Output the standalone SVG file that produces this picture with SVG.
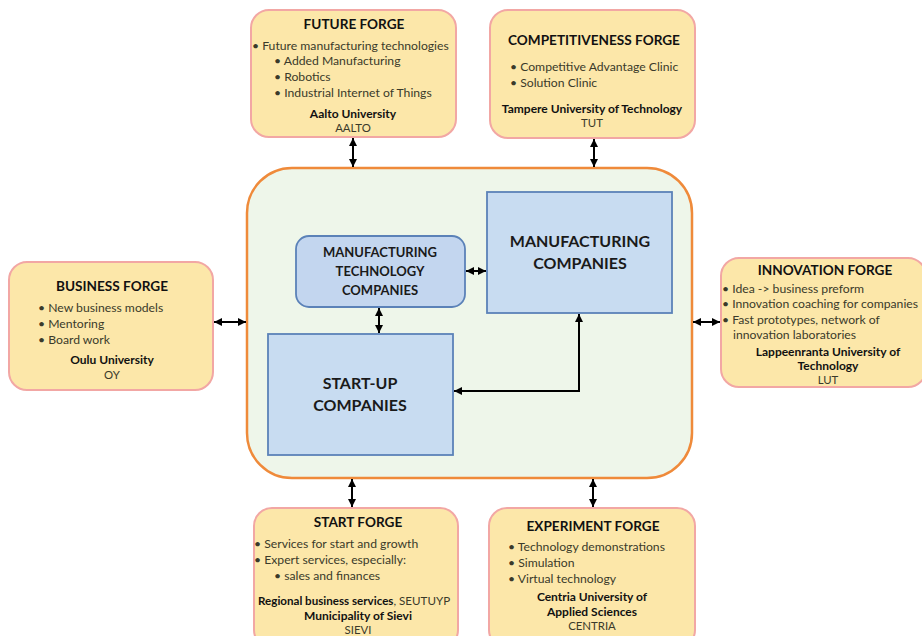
<svg xmlns="http://www.w3.org/2000/svg" width="922" height="636" viewBox="0 0 922 636">
  <defs>
    <marker id="arr" viewBox="0 0 10 10" refX="10" refY="5" markerWidth="4" markerHeight="4" orient="auto-start-reverse" markerUnits="strokeWidth">
      <path d="M0,0 L10,5 L0,10 Z" fill="#000"/>
    </marker>
    <style>
      .forge { fill: #fce7a9; stroke: #f2a7a4; stroke-width: 2; }
      .hub { fill: #eef6ea; stroke: #ef8a3a; stroke-width: 2.5; }
      .blue { fill: #c8dcf1; stroke: #5b82b8; stroke-width: 1.8; }
      .blue2 { fill: #c3d6ef; stroke: #5b82b8; stroke-width: 1.8; }
      text { font-family: Lato, "Liberation Sans", sans-serif; }
      .title { font-size: 13.6px; font-weight: bold; fill: #111; text-anchor: middle; }
      .item { font-size: 12.2px; fill: #3a3a2a; }
      .org { font-size: 12px; font-weight: bold; fill: #111; text-anchor: middle; }
      .abbr { font-size: 11.4px; fill: #3a3a2a; text-anchor: middle; }
      .big { font-size: 16px; font-weight: bold; fill: #1a1a1a; text-anchor: middle; }
      .mid { font-size: 13px; font-weight: bold; fill: #1a1a1a; text-anchor: middle; }
      .link { stroke: #000; stroke-width: 2; fill: none; marker-start: url(#arr); marker-end: url(#arr); }
    </style>
  </defs>

  <rect width="922" height="636" fill="#fff"/>

  <!-- central hub -->
  <g id="hub">
    <rect class="hub" x="247" y="168" width="445" height="310" rx="45"/>
  </g>

  <g id="future-forge">
    <rect class="forge" x="251" y="10" width="205" height="127" rx="18"/>
    <text class="title" x="354" y="29">FUTURE FORGE</text>
    <text class="item" x="252" y="50">• Future manufacturing technologies</text>
    <text class="item" x="274" y="65">• Added Manufacturing</text>
    <text class="item" x="274" y="81">• Robotics</text>
    <text class="item" x="274" y="97">• Industrial Internet of Things</text>
    <text class="org" x="353" y="118">Aalto University</text>
    <text class="abbr" x="353" y="132">AALTO</text>
  </g>

  <g id="competitiveness-forge">
    <rect class="forge" x="490" y="10" width="205" height="128" rx="18"/>
    <text class="title" x="594" y="45">COMPETITIVENESS FORGE</text>
    <text class="item" x="510" y="71">•  Competitive Advantage Clinic</text>
    <text class="item" x="510" y="87">•  Solution Clinic</text>
    <text class="org" x="592" y="113">Tampere University of Technology</text>
    <text class="abbr" x="592" y="127">TUT</text>
  </g>

  <g id="business-forge">
    <rect class="forge" x="9" y="262" width="204" height="128" rx="18"/>
    <text class="title" x="112" y="291">BUSINESS FORGE</text>
    <text class="item" x="38" y="312">•  New business models</text>
    <text class="item" x="38" y="328">•  Mentoring</text>
    <text class="item" x="38" y="344">•  Board work</text>
    <text class="org" x="112" y="364">Oulu University</text>
    <text class="abbr" x="112" y="379">OY</text>
  </g>

  <g id="innovation-forge">
    <rect class="forge" x="721" y="258" width="205" height="129" rx="18"/>
    <text class="title" x="825" y="275">INNOVATION FORGE</text>
    <text class="item" x="722" y="293">•  Idea -&gt; business preform</text>
    <text class="item" x="722" y="308">•  Innovation coaching for companies</text>
    <text class="item" x="722" y="324">•  Fast prototypes, network of</text>
    <text class="item" x="733" y="339">innovation laboratories</text>
    <text class="org" x="828" y="356">Lappeenranta University of</text>
    <text class="org" x="828" y="370">Technology</text>
    <text class="abbr" x="828" y="384">LUT</text>
  </g>

  <g id="start-forge">
    <rect class="forge" x="254" y="508" width="204" height="140" rx="18"/>
    <text class="title" x="358" y="527">START FORGE</text>
    <text class="item" x="254" y="548">•  Services for start and growth</text>
    <text class="item" x="254" y="564">•  Expert services, especially:</text>
    <text class="item" x="274" y="580">•  sales and finances</text>
    <text x="258" y="605" style="font-size:11.6px"><tspan font-weight="bold" fill="#111">Regional business services</tspan><tspan fill="#3a3a2a">, SEUTUYP</tspan></text>
    <text class="org" x="358" y="620">Municipality of Sievi</text>
    <text class="abbr" x="358" y="634">SIEVI</text>
  </g>

  <g id="experiment-forge">
    <rect class="forge" x="489" y="508" width="206" height="140" rx="18"/>
    <text class="title" x="593" y="531">EXPERIMENT FORGE</text>
    <text class="item" x="508" y="551">•  Technology demonstrations</text>
    <text class="item" x="508" y="567">•  Simulation</text>
    <text class="item" x="508" y="583">•  Virtual technology</text>
    <text class="org" x="592" y="601">Centria University of</text>
    <text class="org" x="592" y="616">Applied Sciences</text>
    <text class="abbr" x="592" y="630">CENTRIA</text>
  </g>

  <g id="manufacturing-technology-companies">
    <rect class="blue2" x="296" y="236" width="169" height="71" rx="13"/>
    <text class="mid" x="380" y="257">MANUFACTURING</text>
    <text class="mid" x="380" y="276">TECHNOLOGY</text>
    <text class="mid" x="380" y="295">COMPANIES</text>
  </g>

  <g id="manufacturing-companies">
    <rect class="blue" x="487" y="192" width="185" height="121"/>
    <text class="big" x="580" y="247">MANUFACTURING</text>
    <text class="big" x="580" y="269">COMPANIES</text>
  </g>

  <g id="startup-companies">
    <rect class="blue" x="268" y="334" width="185" height="121"/>
    <text class="big" x="360" y="389">START-UP</text>
    <text class="big" x="360" y="411">COMPANIES</text>
  </g>

  <g id="connectors">
    <line class="link" x1="353" y1="138" x2="353" y2="167"/>
    <line class="link" x1="594" y1="139" x2="594" y2="167"/>
    <line class="link" x1="214" y1="322" x2="246" y2="322"/>
    <line class="link" x1="693" y1="322" x2="720" y2="322"/>
    <line class="link" x1="352" y1="479" x2="352" y2="507"/>
    <line class="link" x1="593" y1="479" x2="593" y2="507"/>
    <line class="link" x1="466" y1="271" x2="486" y2="271"/>
    <line class="link" x1="379" y1="308" x2="379" y2="333"/>
    <path class="link" d="M454,391 L579,391 L579,314"/>
  </g>
</svg>
